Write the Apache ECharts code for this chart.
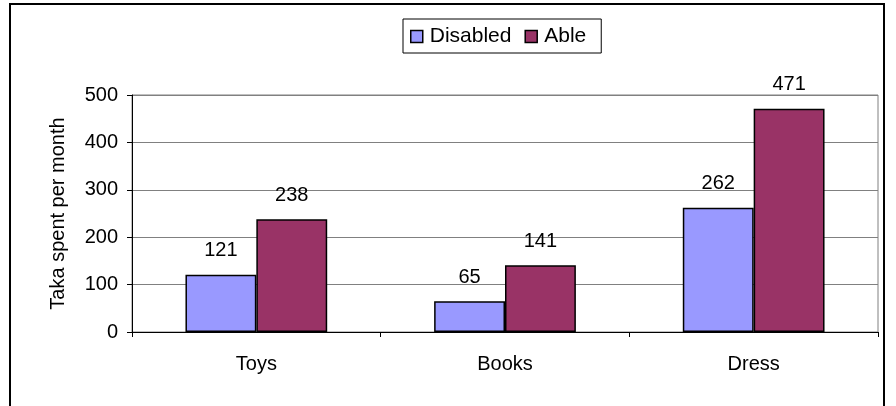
<!DOCTYPE html>
<html>
<head>
<meta charset="utf-8">
<script src="https://cdn.jsdelivr.net/npm/echarts@6/dist/echarts.min.js"></script>
<style>
  html, body { margin: 0; padding: 0; background: #fff; }
  #chart { width: 896px; height: 406px; }
</style>
</head>
<body>
<div id="chart"></div>
<script>
const categories = ['Toys', 'Books', 'Dress'];
const disabledValues = [121, 65, 262];
const ableValues = [238, 141, 471];
const yTicks = [0, 100, 200, 300, 400, 500];

const FONT = '"Liberation Sans", Arial, sans-serif';

const chart = echarts.init(document.getElementById('chart'), null, { renderer: 'canvas' });

const barLabel = {
  show: true,
  position: 'top',
  distance: 14,
  color: '#000',
  fontFamily: FONT,
  fontSize: 20
};

chart.setOption({
  animation: false,
  backgroundColor: '#fff',
  textStyle: { fontFamily: FONT },
  graphic: [
    {
      type: 'polyline',
      shape: { points: [[10, 406], [10, 4], [884, 4], [884, 406]] },
      style: { stroke: '#000', lineWidth: 2, fill: null },
      silent: true
    }
  ],
  legend: {
    left: 403,
    top: 19,
    padding: [7, 15, 6, 7],
    itemWidth: 12,
    itemHeight: 12,
    itemGap: 13,
    borderColor: '#000',
    borderWidth: 1,
    backgroundColor: '#fff',
    icon: 'rect',
    itemStyle: { borderColor: '#000', borderWidth: 1.5 },
    textStyle: { fontFamily: FONT, fontSize: 21, color: '#000', padding: [0, 0, 0, 2] },
    data: ['Disabled', 'Able']
  },
  grid: {
    left: 132,
    right: 18,
    top: 95,
    bottom: 74,
    show: true,
    borderColor: '#808080',
    borderWidth: 1,
    containLabel: false
  },
  xAxis: {
    type: 'category',
    data: categories,
    axisLine: { show: true, lineStyle: { color: '#000', width: 1 } },
    axisTick: { show: true, length: 5, alignWithLabel: false, lineStyle: { color: '#000' } },
    axisLabel: { color: '#000', fontFamily: FONT, fontSize: 20, margin: 22 },
    splitLine: { show: false }
  },
  yAxis: {
    type: 'value',
    min: yTicks[0],
    max: yTicks[yTicks.length - 1],
    interval: yTicks[1] - yTicks[0],
    name: 'Taka spent per month',
    nameLocation: 'middle',
    nameGap: 64,
    nameRotate: 90,
    nameTextStyle: { color: '#000', fontFamily: FONT, fontSize: 20 },
    axisLine: { show: true, lineStyle: { color: '#000', width: 1 } },
    axisTick: { show: true, length: 5, lineStyle: { color: '#000' } },
    axisLabel: { color: '#000', fontFamily: FONT, fontSize: 20, margin: 14 },
    splitLine: { show: true, lineStyle: { color: '#808080', width: 1 } }
  },
  series: [
    {
      name: 'Disabled',
      type: 'bar',
      data: disabledValues,
      barGap: '0%',
      barCategoryGap: '43%',
      itemStyle: { color: '#9999FF', borderColor: '#000', borderWidth: 1.5 },
      label: barLabel
    },
    {
      name: 'Able',
      type: 'bar',
      data: ableValues,
      barGap: '0%',
      barCategoryGap: '43%',
      itemStyle: { color: '#993366', borderColor: '#000', borderWidth: 1.5 },
      label: barLabel
    }
  ]
});
</script>
</body>
</html>
